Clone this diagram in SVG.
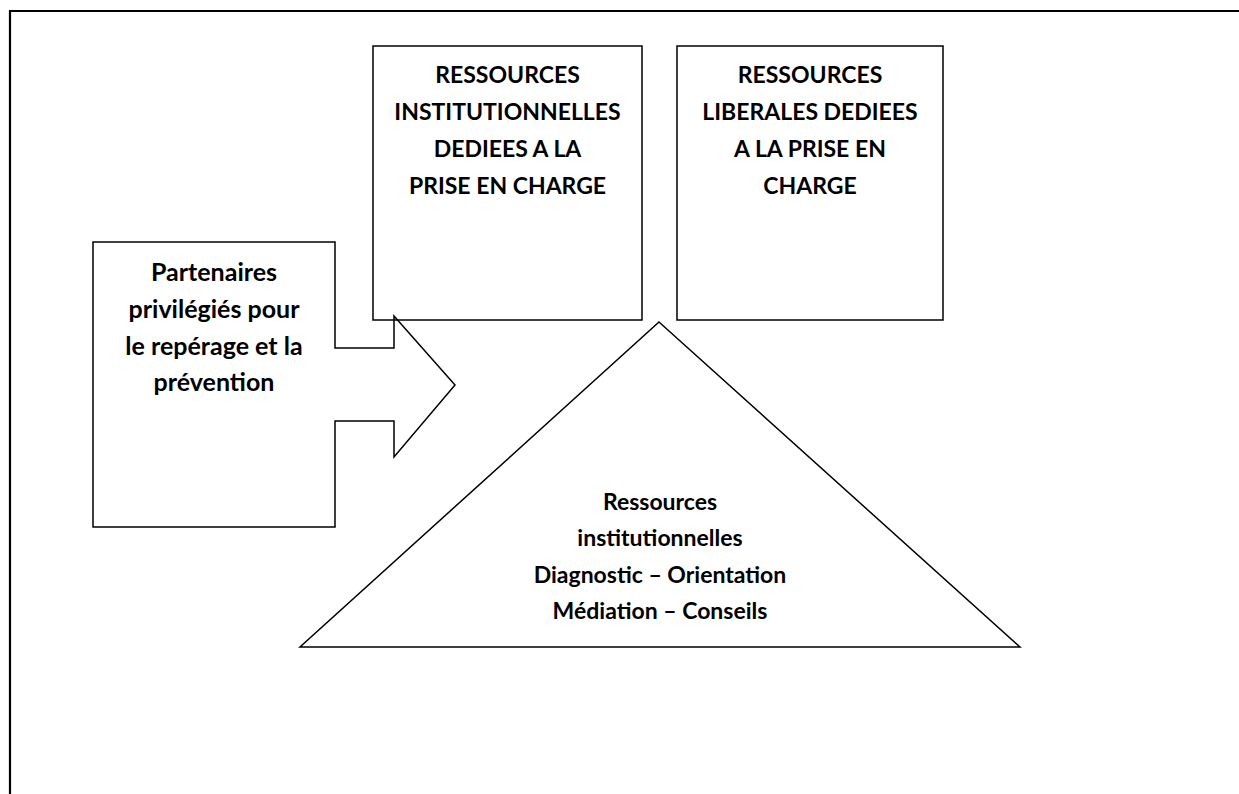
<svg xmlns="http://www.w3.org/2000/svg" width="1239" height="794" viewBox="0 0 1239 794">
<style>
.shape{fill:#fff;stroke:#000;stroke-width:1.5}
.border{fill:none;stroke:#000;stroke-width:2.2}
.t{font-family:Lato,"Liberation Sans",sans-serif;font-weight:bold;font-size:23px;fill:#000;text-anchor:middle}
.big{font-size:25px}
</style>
<rect width="1239" height="794" fill="#fff"/>
<path class="border" d="M10,794 V11 H1239"/>
<g id="box-institutionnelles">
<rect class="shape" x="373" y="46" width="269" height="274"/>
<text class="t" x="507.5" y="83">RESSOURCES</text>
<text class="t" x="507.5" y="120">INSTITUTIONNELLES</text>
<text class="t" x="507.5" y="157">DEDIEES A LA</text>
<text class="t" x="507.5" y="194">PRISE EN CHARGE</text>
</g>
<g id="box-liberales">
<rect class="shape" x="677" y="46" width="266" height="274"/>
<text class="t" x="810" y="83">RESSOURCES</text>
<text class="t" x="810" y="120">LIBERALES DEDIEES</text>
<text class="t" x="810" y="157">A LA PRISE EN</text>
<text class="t" x="810" y="194">CHARGE</text>
</g>
<g id="connectors">
<path class="shape" style="fill:none" d="M93,242 H335 V348 H394 V316 L455,385 L394,457 V421 H335 V527 H93 Z"/>
</g>
<g id="partenaires">
<text class="t big" x="214" y="281">Partenaires</text>
<text class="t big" x="214" y="318">privilégiés pour</text>
<text class="t big" x="214" y="355">le repérage et la</text>
<text class="t big" x="214" y="391">prévention</text>
</g>
<g id="triangle-diagnostic">
<polygon class="shape" points="659,322 1020,647 300,647"/>
<text class="t" x="660" y="510">Ressources</text>
<text class="t" x="660" y="546">institutionnelles</text>
<text class="t" x="660" y="583">Diagnostic – Orientation</text>
<text class="t" x="660" y="619">Médiation – Conseils</text>
</g>
</svg>
